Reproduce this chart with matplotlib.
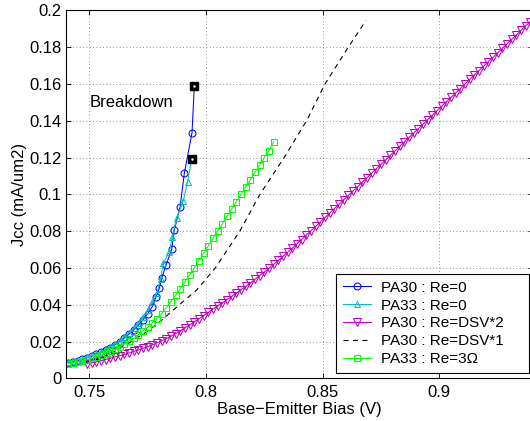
import matplotlib
matplotlib.use("Agg")
import matplotlib.pyplot as plt

plt.rcParams['font.family'] = ['Liberation Sans', 'DejaVu Sans']
plt.rcParams['font.size'] = 12

# PA30 : Re=0
pa30_v = [0.741, 0.743, 0.745, 0.747, 0.749, 0.751, 0.753, 0.755, 0.757, 0.759,
          0.761, 0.763, 0.765, 0.767, 0.769, 0.771, 0.773, 0.775, 0.777, 0.7785,
          0.780, 0.781, 0.7829, 0.7853, 0.7864, 0.7889, 0.7907, 0.794, 0.795]
pa30_j = [0.0085, 0.0090, 0.0096, 0.0103, 0.0111, 0.0120, 0.0130, 0.0141, 0.0153, 0.0167,
          0.0183, 0.0200, 0.0219, 0.0240, 0.0263, 0.0289, 0.0318, 0.0351, 0.0390, 0.0440,
          0.0489, 0.0543, 0.0616, 0.0701, 0.0806, 0.0933, 0.1114, 0.1335, 0.159]

# PA33 : Re=0
pa33_v = [0.741, 0.743, 0.745, 0.747, 0.749, 0.751, 0.753, 0.755, 0.757, 0.759,
          0.761, 0.763, 0.765, 0.767, 0.769, 0.771, 0.773, 0.775, 0.777, 0.779,
          0.7805, 0.7817, 0.7843, 0.7855, 0.7874, 0.7903, 0.7921, 0.7939]
pa33_j = [0.0088, 0.0094, 0.0100, 0.0107, 0.0115, 0.0124, 0.0134, 0.0145, 0.0157, 0.0171,
          0.0187, 0.0205, 0.0225, 0.0247, 0.0272, 0.0300, 0.0332, 0.0370, 0.0413, 0.0462,
          0.0540, 0.0625, 0.0688, 0.0766, 0.0870, 0.0965, 0.1069, 0.1194]

# PA30 : Re=DSV*2
dsv2_v = [0.749, 0.751, 0.753, 0.755, 0.757, 0.759, 0.761, 0.763, 0.765, 0.767,
          0.769, 0.771, 0.773, 0.775, 0.777, 0.779, 0.781, 0.783, 0.785, 0.787,
          0.789, 0.791, 0.793, 0.795, 0.797, 0.799, 0.801, 0.803, 0.805, 0.807,
          0.809, 0.811, 0.813, 0.815, 0.817, 0.819, 0.821, 0.823, 0.825, 0.827,
          0.829, 0.831, 0.833, 0.835, 0.837, 0.839, 0.841, 0.843, 0.845, 0.847,
          0.849, 0.851, 0.853, 0.855, 0.857, 0.859, 0.861, 0.863, 0.865, 0.867,
          0.869, 0.871, 0.873, 0.875, 0.877, 0.879, 0.881, 0.883, 0.885, 0.887,
          0.889, 0.891, 0.893, 0.895, 0.897, 0.899, 0.901, 0.903, 0.905, 0.907,
          0.909, 0.911, 0.913, 0.915, 0.917, 0.919, 0.921, 0.923, 0.925, 0.927,
          0.929, 0.931, 0.933, 0.935, 0.937, 0.939]
dsv2_j = [0.0078, 0.0084, 0.0090, 0.0096, 0.0102, 0.0109, 0.0116, 0.0123, 0.0130, 0.0138,
          0.0146, 0.0154, 0.0163, 0.0172, 0.0182, 0.0193, 0.0204, 0.0216, 0.0229, 0.0243,
          0.0258, 0.0274, 0.0290, 0.0307, 0.0324, 0.0341, 0.0358, 0.0376, 0.0393, 0.0410,
          0.0427, 0.0445, 0.0463, 0.0481, 0.0499, 0.0518, 0.0538, 0.0558, 0.0578, 0.0598,
          0.0619, 0.0641, 0.0663, 0.0685, 0.0708, 0.0731, 0.0754, 0.0778, 0.0802, 0.0826,
          0.0850, 0.0874, 0.0898, 0.0922, 0.0946, 0.0970, 0.0994, 0.1018, 0.1042, 0.1066,
          0.1090, 0.1115, 0.1139, 0.1163, 0.1187, 0.1212, 0.1236, 0.1260, 0.1284, 0.1309,
          0.1333, 0.1357, 0.1381, 0.1406, 0.1430, 0.1454, 0.1478, 0.1503, 0.1527, 0.1551,
          0.1575, 0.1600, 0.1624, 0.1648, 0.1672, 0.1697, 0.1721, 0.1745, 0.1769, 0.1794,
          0.1818, 0.1842, 0.1866, 0.1891, 0.1915, 0.1939]

# PA30 : Re=DSV*1
dsv1_v = [0.748, 0.754, 0.760, 0.7667, 0.7746, 0.7803, 0.786, 0.791, 0.796, 0.804,
          0.8145, 0.8231, 0.8335, 0.8431, 0.851, 0.861, 0.8685]
dsv1_j = [0.0085, 0.0105, 0.0140, 0.0190, 0.0253, 0.0308, 0.0371, 0.0426, 0.048, 0.060,
          0.080, 0.100, 0.120, 0.140, 0.160, 0.180, 0.1944]

# PA33 : Re=3 ohm
re3_v = [0.741, 0.743, 0.745, 0.747, 0.749, 0.751, 0.753, 0.755, 0.757, 0.759,
         0.761, 0.763, 0.765, 0.767, 0.769, 0.771, 0.773, 0.775, 0.777, 0.779,
         0.781, 0.783, 0.785, 0.787, 0.789, 0.791, 0.793, 0.795, 0.797, 0.799,
         0.801, 0.803, 0.805, 0.807, 0.809, 0.811, 0.813, 0.815, 0.817, 0.819,
         0.821, 0.823, 0.825, 0.827, 0.829]
re3_j = [0.0080, 0.0085, 0.0090, 0.0095, 0.0101, 0.0108, 0.0116, 0.0125, 0.0135, 0.0146,
         0.0158, 0.0171, 0.0186, 0.0201, 0.0218, 0.0236, 0.0256, 0.0277, 0.0300, 0.0325,
         0.0352, 0.0384, 0.0417, 0.0451, 0.0487, 0.0524, 0.0562, 0.0601, 0.0640, 0.0680,
         0.0720, 0.0760, 0.0800, 0.0840, 0.0880, 0.0920, 0.0960, 0.1000, 0.1040, 0.1080,
         0.1120, 0.1160, 0.1200, 0.1238, 0.1285]

# breakdown points
brk_v = [0.795, 0.7939]
brk_j = [0.159, 0.1194]

xticks = [0.75, 0.8, 0.85, 0.9]
xticklabels = ['0.75', '0.8', '0.85', '0.9']
yticks = [0, 0.02, 0.04, 0.06, 0.08, 0.1, 0.12, 0.14, 0.16, 0.18, 0.2]
yticklabels = ['0', '0.02', '0.04', '0.06', '0.08', '0.1', '0.12', '0.14', '0.16', '0.18', '0.2']

fig = plt.figure(figsize=(5.30, 4.21), dpi=100)
ax = fig.add_axes([66 / 530, 42.7 / 421, 466.7 / 530, 368 / 421])

lw = 0.75
ax.plot(pa30_v, pa30_j, color='b', lw=lw, marker='o', ms=5, mfc='none', mew=0.75,
        label='PA30 : Re=0')
ax.plot(pa33_v, pa33_j, color='c', lw=lw, marker='^', ms=5, mfc='none', mew=0.75,
        label='PA33 : Re=0')
ax.plot(dsv2_v, dsv2_j, color='m', lw=lw, marker='v', ms=5.5, mfc='none', mew=0.75,
        label='PA30 : Re=DSV*2')
ax.plot(dsv1_v, dsv1_j, color='k', lw=0.8, dashes=(4.5, 4), label='PA30 : Re=DSV*1')
ax.plot(re3_v, re3_j, color='#00ff00', lw=lw, marker='s', ms=4.2, mfc='none', mew=0.75,
        label='PA33 : Re=3Ω')

ax.plot(brk_v, brk_j, ls='none', marker='s', ms=5.8, mfc='k', mec='k')
ax.plot(brk_v, brk_j, ls='none', marker='.', ms=1.5, color='w')
ax.text(0.7503, 0.150, 'Breakdown', ha='left', va='center', fontsize=12)

ax.set_xlim(0.74, 0.94)
ax.set_ylim(0, 0.2)
ax.set_xticks(xticks)
ax.set_xticklabels(xticklabels)
ax.set_yticks(yticks)
ax.set_yticklabels(yticklabels)
ax.tick_params(direction='in', length=3.5, width=0.6, top=True, right=True,
               labelsize=12, pad=3)
ax.tick_params(axis='x', pad=5)
ax.grid(True, color='0.45', lw=0.6, dashes=(1, 3))
for s in ax.spines.values():
    s.set_linewidth(0.8)

ax.set_xlabel('Base−Emitter Bias (V)', fontsize=12, labelpad=1)
ax.set_ylabel('Jcc (mA/um2)', fontsize=12, labelpad=2)

# legend box spans x=336..529 px, bottom at y=373 px of the figure
leg = ax.legend(loc='lower left', mode='expand',
                bbox_to_anchor=((336 - 66) / 466.7, 5 / 368, 193.3 / 466.7, 0),
                borderaxespad=0, fancybox=False, framealpha=1, edgecolor='k',
                borderpad=0.45, labelspacing=0.26, handlelength=1.85, handletextpad=0.65,
                fontsize=11)
leg.get_frame().set_linewidth(0.8)

fig.savefig('out.png', dpi=100)
